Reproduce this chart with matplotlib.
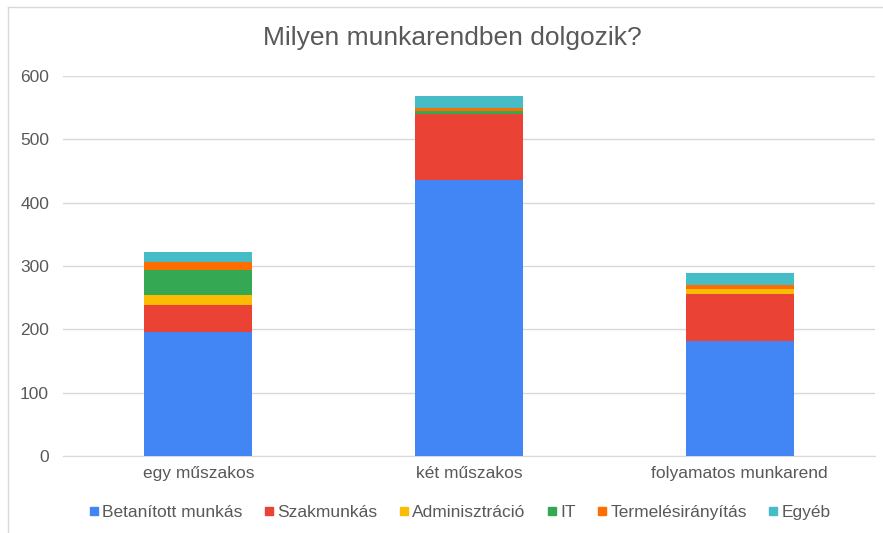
import numpy as np
import matplotlib.pyplot as plt
from matplotlib.lines import Line2D

plt.rcParams['font.family'] = ['Liberation Sans', 'DejaVu Sans']

categories = ['egy műszakos', 'két műszakos', 'folyamatos munkarend']
series = ['Betanított munkás', 'Szakmunkás', 'Adminisztráció', 'IT',
          'Termelésirányítás', 'Egyéb']
betanitott = [196, 435, 182]
szakmunkas = [43, 105, 74]
adminisztracio = [16, 0, 8]
it = [38, 4, 0]
termeles = [13, 5, 6]
egyeb = [16, 19, 19]
values = [betanitott, szakmunkas, adminisztracio, it, termeles, egyeb]
colors = ['#4285F4', '#EA4335', '#FBBC04', '#34A853', '#FF6D01', '#46BDC6']

fig = plt.figure(figsize=(8.83, 5.33), dpi=100)
ax = fig.add_axes([63/883, 1-456/533, (875-63)/883, (456-76)/533])

x = np.arange(len(categories))
bottom = np.zeros(len(categories))
for name, vals, c in zip(series, values, colors):
    ax.bar(x, vals, 0.4, bottom=bottom, color=c, label=name, zorder=3)
    bottom += np.array(vals)

ax.set_xlim(-0.5, 2.5)
ax.set_ylim(0, 600)
ax.set_yticks(np.arange(0, 601, 100))
ax.set_xticks(x)
ax.set_xticklabels(categories)
ax.yaxis.grid(True, color='#D9D9D9', linewidth=1, zorder=0)
for s in ['top', 'right', 'left']:
    ax.spines[s].set_visible(False)
ax.spines['bottom'].set_color('#D9D9D9')
ax.tick_params(axis='both', length=0, labelsize=12.5, labelcolor='#595959')
ax.tick_params(axis='x', pad=7)
ax.tick_params(axis='y', pad=10)

fig.text(452/883, 1-38/533, 'Milyen munkarendben dolgozik?', ha='center', va='center',
         fontsize=19, color='#595959')

handles = [Line2D([], [], marker='s', linestyle='', color=c, markersize=6) for c in colors]
fig.legend(handles, series, loc='center', bbox_to_anchor=(458/883, 1-512/533), ncol=6,
           frameon=False, fontsize=12.5, labelcolor='#595959', handletextpad=0.0,
           columnspacing=1.0, handlelength=1)

fig.add_artist(Line2D([8/883, 1], [1-7/533, 1-7/533], color='#D9D9D9', lw=1))
fig.add_artist(Line2D([8/883, 8/883], [0, 1-7/533], color='#D9D9D9', lw=1))

fig.savefig('out.png', dpi=100)
